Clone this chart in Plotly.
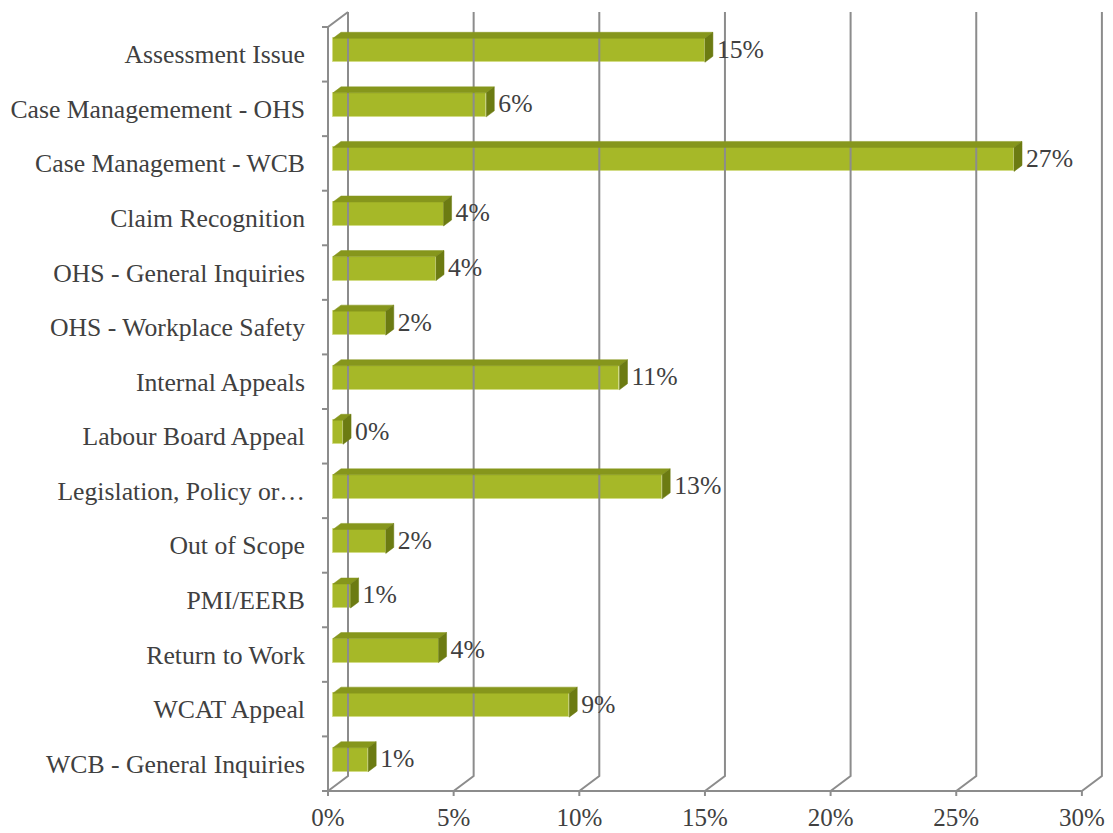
import plotly.graph_objects as go

categories = ["Assessment Issue", "Case Managemement - OHS", "Case Management - WCB",
              "Claim Recognition", "OHS - General Inquiries", "OHS - Workplace Safety",
              "Internal Appeals", "Labour Board Appeal", "Legislation, Policy or…",
              "Out of Scope", "PMI/EERB", "Return to Work", "WCAT Appeal",
              "WCB - General Inquiries"]
values = [14.8, 6.1, 27.1, 4.4, 4.1, 2.1, 11.4, 0.4, 13.1, 2.1, 0.7, 4.2, 9.4, 1.4]
x_ticks = [0, 5, 10, 15, 20, 25, 30]
x_tick_labels = ["0%", "5%", "10%", "15%", "20%", "25%", "30%"]

# ---- geometry (pixels -> data units) ----
W, H = 1113, 833
X0PX, SX = 328, 25.13      # px of 0% on front plane, px per percent
Y0PX, SY = 27, 54.57       # px of top of first category band, px per category
PL, PR, PT, PB = 316, 1105, 10, 799

def dx(p):
    return p / SX

def dy(p):
    return p / SY

n = len(categories)
xr = [(PL - X0PX) / SX, (PR - X0PX) / SX]
yr = [(PB - Y0PX) / SY - 0.5, (PT - Y0PX) / SY - 0.5]

WX, WY = dx(20), dy(-15)          # wall depth
Y_TOP, Y_BOT = -0.5, n - 0.5
XMAX = x_ticks[-1]

GRID = "#8C8C8C"
FONT = "Liberation Serif"
FS = 25.7
TXT = "#404040"
FRONT = "#A6B828"
TOP = "#86961C"
SIDE = "#6C7B12"
EDGE = "#D2DC86"

fig = go.Figure()

# gridlines on back wall + floor diagonals
gx, gy = [], []
for t in x_ticks:
    gx += [t, t + WX, t + WX, None]
    gy += [Y_BOT, Y_BOT + WY, Y_TOP + WY, None]
# left wall front edge
gx += [0, 0, WX, None]
gy += [Y_BOT, Y_TOP, Y_TOP + WY, None]
# front floor axis
gx += [0, XMAX, None]
gy += [Y_BOT, Y_BOT, None]
# x ticks
for t in x_ticks:
    gx += [t, t, None]
    gy += [Y_BOT, Y_BOT + dy(5), None]
# y boundary ticks
for k in range(n + 1):
    gx += [-dx(6), 0, None]
    gy += [k - 0.5, k - 0.5, None]
fig.add_trace(go.Scatter(x=gx, y=gy, mode="lines", line=dict(color=GRID, width=2),
                         hoverinfo="skip", showlegend=False))

# bars
BX = dx(5)
BYC = dy(-4)
BH = dy(24)
DDX, DDY = dx(8), dy(-6)
pos = [i + BYC for i in range(n)]

fig.add_trace(go.Bar(orientation="h", y=pos, x=values, base=BX, width=BH,
                     marker=dict(color=FRONT, line=dict(color=EDGE, width=1)),
                     showlegend=False, hoverinfo="skip"))

tx, ty, sx_, sy_ = [], [], [], []
for p, v in zip(pos, values):
    yt, yb = p - BH / 2, p + BH / 2
    x1 = BX + v
    tx += [BX, BX + DDX, x1 + DDX, x1, BX, None]
    ty += [yt, yt + DDY, yt + DDY, yt, yt, None]
    sx_ += [x1, x1 + DDX, x1 + DDX, x1, x1, None]
    sy_ += [yt, yt + DDY, yb + DDY, yb, yt, None]
fig.add_trace(go.Scatter(x=tx, y=ty, mode="lines", fill="toself", fillcolor=TOP,
                         line=dict(color=TOP, width=0.5), hoverinfo="skip", showlegend=False))
fig.add_trace(go.Scatter(x=sx_, y=sy_, mode="lines", fill="toself", fillcolor=SIDE,
                         line=dict(color=SIDE, width=0.5), hoverinfo="skip", showlegend=False))

labels = [f"{int(v + 0.5)}%" for v in values]
fig.add_trace(go.Scatter(x=[BX + v + DDX + dx(4) for v in values], y=[p + dy(1) for p in pos],
                         mode="text", text=labels, textposition="middle right",
                         textfont=dict(family=FONT, size=FS, color=TXT),
                         cliponaxis=False, hoverinfo="skip", showlegend=False))

fig.update_layout(
    width=W, height=H,
    margin=dict(l=PL, r=W - PR, t=PT, b=H - PB, pad=0, autoexpand=False),
    plot_bgcolor="white", paper_bgcolor="white",
    bargap=0,
    xaxis=dict(range=xr, tickvals=x_ticks, ticktext=x_tick_labels, showgrid=False,
               zeroline=False, showline=False, ticks="", automargin=False,
               tickfont=dict(family=FONT, size=25, color=TXT), ticklabelstandoff=1),
    yaxis=dict(range=yr, tickvals=list(range(n)), ticktext=categories, showgrid=False,
               zeroline=False, showline=False, ticks="", automargin=False,
               tickfont=dict(family=FONT, size=FS, color=TXT), ticklabelstandoff=10),
)

fig.write_html("out.html")
